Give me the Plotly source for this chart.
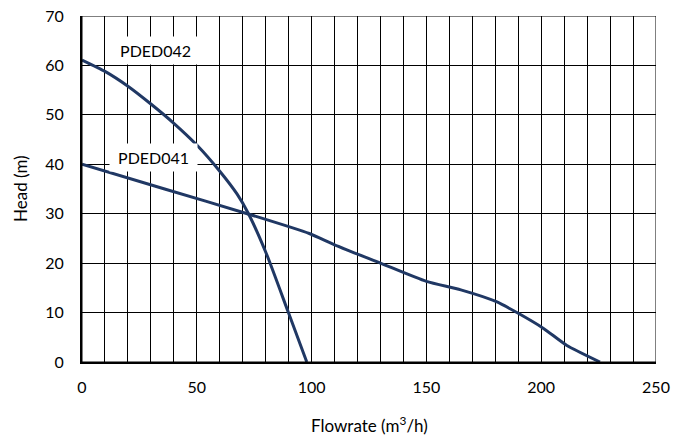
import plotly.graph_objects as go

# Pump curves
pded042_flow = [0, 10, 20, 30, 40, 50, 60, 67.5, 72.4, 80.4, 89.9, 97.9]
pded042_head = [61.1, 58.8, 55.8, 52.2, 48.3, 43.9, 38.6, 34, 30.1, 21.8, 10, 0]

pded041_flow = [0, 36, 72, 99, 110, 130, 150, 165, 180.5, 190, 201, 211, 225.6]
pded041_head = [40, 35, 30, 26, 23.7, 20, 16.3, 14.6, 12.2, 9.85, 6.8, 3.4, 0]

labels = ["PDED042", "PDED041"]
label_pos_x = [32.2, 31.0]
label_pos_y = [63, 41.4]

x_ticks = [0, 50, 100, 150, 200, 250]
y_ticks = [0, 10, 20, 30, 40, 50, 60, 70]

x_title = "Flowrate (m<sup>3</sup>/h)"
y_title = "Head (m)"

color = "#203864"
font_family = "Lato, Open Sans, sans-serif"

fig = go.Figure()
fig.add_trace(go.Scatter(x=pded042_flow, y=pded042_head, mode="lines",
                         line=dict(color=color, width=3, shape="spline", smoothing=0.6),
                         showlegend=False, hoverinfo="skip"))
fig.add_trace(go.Scatter(x=pded041_flow, y=pded041_head, mode="lines",
                         line=dict(color=color, width=3, shape="spline", smoothing=0.6),
                         showlegend=False, hoverinfo="skip"))

for t, xx, yy in zip(labels, label_pos_x, label_pos_y):
    fig.add_annotation(x=xx, y=yy, text="&nbsp;" + t + "&nbsp;", showarrow=False,
                       bgcolor="white",
                       font=dict(size=16, color="black", family=font_family),
                       borderpad=4, xref="x", yref="y")

# axis titles
fig.add_annotation(x=0.5, y=-0.182, xref="paper", yref="paper", text=x_title,
                   showarrow=False, xanchor="center", yanchor="middle",
                   font=dict(size=17, color="black", family=font_family))
fig.add_annotation(x=-0.108, y=0.5, xref="paper", yref="paper", text=y_title,
                   showarrow=False, xanchor="center", yanchor="middle", textangle=-90,
                   font=dict(size=17, color="black", family=font_family))

fig.add_shape(type="rect", xref="x", yref="y", x0=0, x1=250, y0=0, y1=70,
              line=dict(color="black", width=1), layer="above")

fig.update_layout(
    width=677, height=440,
    margin=dict(l=82, r=21, t=16, b=78),
    plot_bgcolor="white", paper_bgcolor="white",
    font=dict(family=font_family, size=16, color="black"),
    xaxis=dict(range=[0, 250], tickvals=x_ticks, ticktext=[str(v) for v in x_ticks],
               showgrid=True, gridcolor="black", gridwidth=1,
               minor=dict(dtick=10, tick0=0, showgrid=True, gridcolor="black", gridwidth=1),
               showline=True, linecolor="black", linewidth=2,
               ticks="", zeroline=False, automargin=False,
               ticklabelstandoff=10,
               tickfont=dict(size=16)),
    yaxis=dict(range=[0, 70], tickvals=y_ticks, ticktext=[str(v) for v in y_ticks],
               showgrid=True, gridcolor="black", gridwidth=1,
               showline=True, linecolor="black", linewidth=2,
               ticks="", zeroline=False, automargin=False,
               ticklabelstandoff=13,
               tickfont=dict(size=16)),
)

fig.write_html("out.html", config={"displayModeBar": False},
               post_script="document.body.style.margin='0';")
